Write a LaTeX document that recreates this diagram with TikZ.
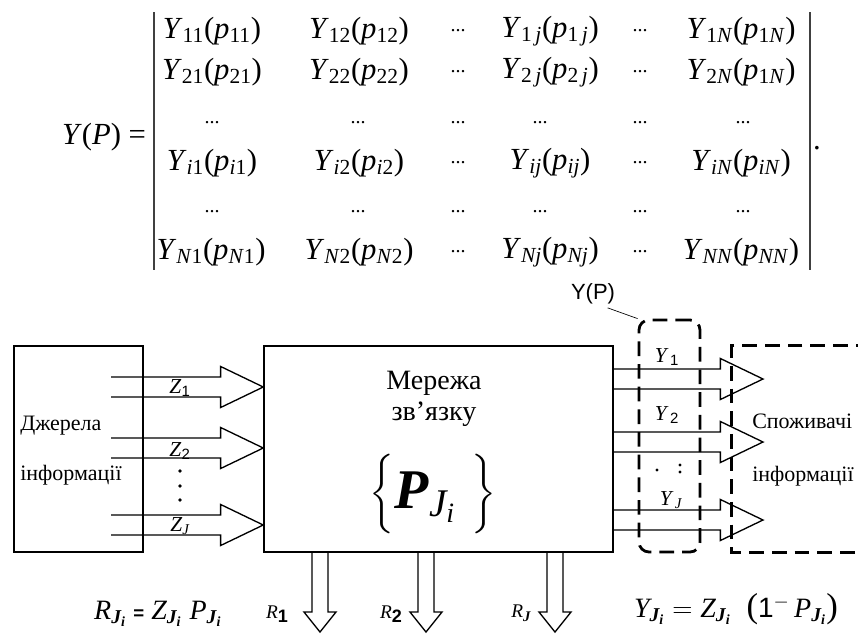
\RequirePackage{fix-cm}
\documentclass[tikz,border=0pt]{standalone}
\usepackage{amsmath}
\usepackage{fontspec}
\setmainfont{Liberation Serif}
\setsansfont{Liberation Sans}
\usetikzlibrary{calc,fit,positioning}
\tikzset{
  box/.style={draw,line width=1.1pt},
  fat/.style={draw,line width=1pt,line join=miter},
  dashbox/.style={draw,line width=2.1pt,dash pattern=on 11pt off 6pt},
  bar/.style={draw=black!75,line width=0.9pt},
  cell/.style={inner sep=0pt,font=\fontsize{23}{28}\selectfont},
  dots/.style={inner sep=0pt,font=\fontsize{15}{15}\selectfont},
  txt/.style={inner sep=0pt,anchor=base west,font=\fontsize{16.5}{20}\selectfont},
  lbl/.style={inner sep=0pt,font=\fontsize{16}{18}\selectfont},
  rlbl/.style={inner sep=0pt,font=\fontsize{14.5}{16}\selectfont},
  form/.style={inner sep=0pt,font=\fontsize{21}{24}\selectfont}
}
\newcommand{\Yp}[2]{\textit{Y}\textsubscript{#1}(\textit{p}\textsubscript{#2})}
\newcommand{\bJi}{\text{\bfseries\itshape J}_{\text{\bfseries\itshape i}}}
% hollow arrow to the right: #1 start of shaft, #2 tip
\newcommand{\harrow}[2]{%
  \draw[fat] let \p1=(#1), \p2=(#2) in
    (\x1,\y2+7.5pt) -- (\x2-32pt,\y2+7.5pt) -- (\x2-32pt,\y2+15.4pt) -- (\x2,\y2)
    -- (\x2-32pt,\y2-15.4pt) -- (\x2-32pt,\y2-7.5pt) -- (\x1,\y2-7.5pt);}
% hollow arrow downwards: #1 start of shaft, #2 tip
\newcommand{\varrow}[2]{%
  \draw[fat] let \p1=(#1), \p2=(#2) in
    (\x2-6pt,\y1) -- (\x2-6pt,\y2+15pt) -- (\x2-12pt,\y2+15pt) -- (\x2,\y2)
    -- (\x2+12pt,\y2+15pt) -- (\x2+6pt,\y2+15pt) -- (\x2+6pt,\y1);}

\begin{document}
\begin{tikzpicture}[x=0.75pt,y=-0.75pt]
  \useasboundingbox (0,0) rectangle (858,633);
  % matrix Y(P)
  \node[cell] (ylhs) at (104,137) {\textit{Y}(\textit{P}) =};
  \draw[bar] (154,12) -- (154,270);
  \draw[bar] (810,12) -- (810,270);
  \foreach \x/\su/\pu [count=\k] in {212/11/11,359/12/12,550/1\,\textit{j}/1\,\textit{j},741/1\textit{N}/1\textit{N}}
    \node[cell] (m1-\k) at (\x,31) {\Yp{\su}{\pu}};
  \foreach \x/\su/\pu [count=\k] in {212/21/21,359/22/22,550/2\,\textit{j}/2\,\textit{j},741/2\textit{N}/1\textit{N}}
    \node[cell] (m2-\k) at (\x,72) {\Yp{\su}{\pu}};
  \foreach \x/\su/\pu [count=\k] in {212/\textit{i}1/\textit{i}1,359/\textit{i}2/\textit{i}2,550/\textit{ij}/\textit{ij},741/\textit{iN}/\textit{iN}}
    \node[cell] (m4-\k) at (\x,163) {\Yp{\su}{\pu}};
  \foreach \x/\su/\pu [count=\k] in {211/\textit{N}1/\textit{N}1,359/\textit{N}2/\textit{N}2,550/\textit{Nj}/\textit{Nj},741/\textit{NN}/\textit{NN}}
    \node[cell] (m6-\k) at (\x,252) {\Yp{\su}{\pu}};
  \foreach \y in {31,72,163,252}
    \foreach \x in {458,640}
      \node[dots] (d\x-\y) at (\x,\y) {...};
  \foreach \y in {123,212}
    \foreach \x in {212,358,458,540,640,743}
      \node[dots] (d\x-\y) at (\x,\y) {...};
  \node[cell] (mdot) at (817,148) {.};

  % blocks
  \node[box,minimum width=96.75pt,minimum height=154.5pt] (src) at (78.5,449) {};
  \node[box,minimum width=261.75pt,minimum height=154.5pt] (net) at (438.5,449) {};
  \node[dashbox,rounded corners=7.5pt,fit={(639,320) (700,552)},inner sep=0pt] (ybox) {};
  \node[fit={(732,346) (870,552)},inner sep=0pt] (dst) {};
  \draw[dashbox] (dst.north east) -- (dst.north west) -- (dst.south west) -- (dst.south east);

  \node[txt] (srcA) at (20,430) {Джерела};
  \node[txt] (srcB) at (20,480) {інформації};
  \node[txt] (dstA) at (752,428) {Споживачі};
  \node[txt] (dstB) at (752,481) {інформації};
  \node[inner sep=0pt,anchor=base,font=\fontsize{21}{23}\selectfont] (netA) at (434,389) {Мережа};
  \node[inner sep=0pt,anchor=base,font=\fontsize{21}{23}\selectfont] (netB) at (434,420) {зв’язку};
  \node[inner sep=0pt,font=\fontsize{42}{44}\selectfont] (pset) at (433,494)
    {$\left\{\rule[-16pt]{0pt}{45pt}\text{\bfseries\itshape P}_{\text{\itshape J}_{\text{\itshape i}}}\;\right\}$};

  \node[inner sep=1pt,font=\sffamily\fontsize{16.5}{18}\selectfont] (yp) at (593,294) {Y(P)};
  \draw[line width=0.5pt] ([shift={(-9,2)}]yp.south east) -- (ybox.north west);

  % hollow arrows
  \foreach \m/\y in {1/387,2/448,J/525}
    \coordinate (z\m) at (111,\y);
  \foreach \m in {1,2,J}
    \harrow{z\m}{net.west |- z\m};
  \foreach \m/\y in {1/379,2/442,J/520}
    \coordinate (y\m) at (763,\y);
  \foreach \m in {1,2,J}
    \harrow{net.east |- y\m}{y\m};
  \foreach \m/\x in {1/320,2/426,J/555}
    \coordinate (r\m) at (\x,632);
  \foreach \m in {1,2,J}
    \varrow{r\m |- net.south}{r\m};

  % labels of the flows
  \node[lbl] (zl1) at (180,388) {\textit{Z}\textsubscript{\sffamily 1}};
  \node[lbl] (zl2) at (180,451) {\textit{Z}\textsubscript{\sffamily 2}};
  \node[lbl] (zlJ) at (180,526) {\textit{Z}\textsubscript{\itshape J}};
  \foreach \y in {471,486,500}
    \fill (180,\y) circle (1.4pt);
  \node[lbl] (yl1) at (667,357) {\textit{Y}\kern1pt\textsubscript{\sffamily 1}};
  \node[lbl] (yl2) at (667,415) {\textit{Y}\kern1pt\textsubscript{\sffamily 2}};
  \node[lbl] (ylJ) at (671,500) {\textit{Y}\kern1pt\textsubscript{\itshape J}};
  \fill (657,470) circle (1.3pt);
  \fill (680,465) circle (1.3pt);
  \fill (680,472) circle (1.3pt);
  \node[rlbl] (rl1) at (277,614) {\textit{R}\raisebox{-3pt}{\fontsize{13.5}{14}\selectfont\bfseries\sffamily 1}};
  \node[rlbl] (rl2) at (391,614) {\textit{R}\raisebox{-3pt}{\fontsize{13.5}{14}\selectfont\bfseries\sffamily 2}};
  \node[rlbl] (rlJ) at (521,613) {\textit{R}\raisebox{-3pt}{\fontsize{11}{12}\selectfont\bfseries\itshape J}};

  % formulas
  \node[form] (rform) at (158,614)
    {$\mathit{R}_{\bJi}\ \text{\fontsize{14}{14}\selectfont\bfseries\sffamily =}\ \mathit{Z}_{\bJi}\;\mathit{P}_{\bJi}$};
  \node[form] (yform) at (736,609)
    {$\mathit{Y}_{\bJi}\mathrel{=}\mathit{Z}_{\bJi}\;\;\text{\fontsize{26}{26}\selectfont(}\mathsf{1}^{\mathsf{-}}\,\mathit{P}_{\bJi}\text{\fontsize{26}{26}\selectfont)}$};
\end{tikzpicture}
\end{document}
